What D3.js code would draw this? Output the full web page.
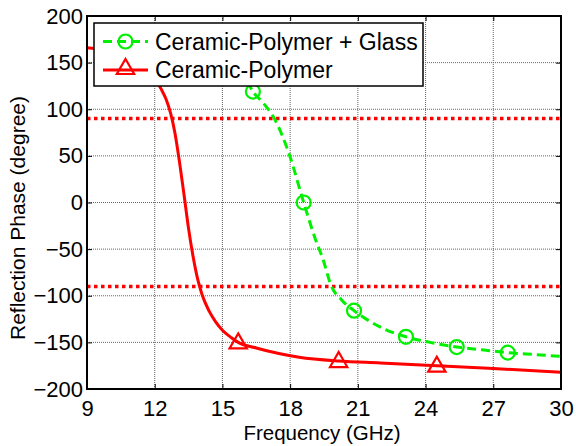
<!DOCTYPE html>
<html><head><meta charset="utf-8">
<script src="https://cdn.jsdelivr.net/npm/d3@7"></script>
<style>body{margin:0;background:#fff}svg{display:block}text{font-family:Arial,"Liberation Sans",sans-serif;fill:#000}</style>
</head><body><svg id="c" width="576" height="446"></svg>
<script>
const xTicks = [9,12,15,18,21,24,27,30];
const yTicks = [-200,-150,-100,-50,0,50,100,150,200];
const refLines = [90,-90];
// Ceramic-Polymer (red solid) curve
const cpFreq  = [9,10,11,11.5,12,12.3,12.5,12.7,12.9,13.1,13.3,13.5,13.7,13.9,14.1,14.4,14.7,15.0,15.4,15.7,16.5,17.5,18.4,20.15,22,24.5,27,30];
const cpPhase = [166,163,156,148,133,121,111,96,74,43,8,-28,-58,-82,-99,-116,-128,-137,-145,-150,-156,-162,-166,-170,-172,-175,-178,-182];
const cpMarkFreq  = [15.7,20.15,24.5];
const cpMarkPhase = [-150,-170,-175];
// Ceramic-Polymer + Glass (green dashed)
const cgFreq  = [16.1,16.35,16.8,17.3,17.97,18.6,19.1,19.47,19.8,20.3,20.83,21.5,22.2,23.13,24.2,25.38,26.5,27.64,28.8,30];
const cgPhase = [130,119,107,90,51,0,-38,-62,-88,-105,-116,-127,-136,-144,-150,-155,-158,-161,-163,-165];
const cgMarkFreq  = [16.35,18.6,20.83,23.13,25.38,27.64];
const cgMarkPhase = [119,0,-116,-144,-155,-161];
const legendLabels = ["Ceramic-Polymer + Glass","Ceramic-Polymer"];

const svg = d3.select("#c");
const L=87,R=561,T=16,B=389;
const GREEN="#00f000", RED="#ff0000";
const x = d3.scaleLinear().domain([9,30]).range([L,R]);
const y = d3.scaleLinear().domain([-200,200]).range([B,T]);

svg.append("defs").append("clipPath").attr("id","clip").append("rect").attr("x",L).attr("y",T).attr("width",R-L).attr("height",B-T);

// grid
const g = svg.append("g");
g.selectAll(".gx").data(xTicks.slice(1,-1)).join("line")
 .attr("x1",d=>x(d)).attr("x2",d=>x(d)).attr("y1",T).attr("y2",B)
 .attr("stroke","#666").attr("stroke-width",1).attr("stroke-dasharray","1,1");
g.selectAll(".gy").data(yTicks.slice(1,-1)).join("line")
 .attr("y1",d=>y(d)).attr("y2",d=>y(d)).attr("x1",L).attr("x2",R)
 .attr("stroke","#666").attr("stroke-width",1).attr("stroke-dasharray","1,1");

// axes
const ax = svg.append("g").attr("transform",`translate(0,${B})`).call(d3.axisBottom(x).tickValues(xTicks).tickSize(-5).tickPadding(11).tickFormat(d3.format("d")));
const axT = svg.append("g").attr("transform",`translate(0,${T})`).call(d3.axisTop(x).tickValues(xTicks).tickSize(-5).tickFormat(""));
const ay = svg.append("g").attr("transform",`translate(${L},0)`).call(d3.axisLeft(y).tickValues(yTicks).tickSize(-5).tickPadding(4).tickFormat(d3.format("d")));
const ayR = svg.append("g").attr("transform",`translate(${R},0)`).call(d3.axisRight(y).tickValues(yTicks).tickSize(-5).tickFormat(""));
[ax,axT,ay,ayR].forEach(a=>{a.select(".domain").remove();a.selectAll("line").attr("stroke","#000").attr("stroke-width",1);});
[ax,ay].forEach(a=>a.selectAll("text").attr("font-size",22).attr("fill","#000").attr("font-family","Arial,'Liberation Sans',sans-serif"));

const plot = svg.append("g").attr("clip-path","url(#clip)");
// reference lines
plot.selectAll(".ref").data(refLines).join("line")
 .attr("x1",L).attr("x2",R).attr("y1",d=>y(d)).attr("y2",d=>y(d))
 .attr("stroke",RED).attr("stroke-width",3.5).attr("stroke-dasharray","3.5,3.5");

const line = d3.line().x(d=>x(d[0])).y(d=>y(d[1])).curve(d3.curveMonotoneX);
const cpData = cpFreq.map((f,i)=>[f,cpPhase[i]]);
const cgData = cgFreq.map((f,i)=>[f,cgPhase[i]]);
plot.append("path").datum(cpData).attr("d",line).attr("fill","none").attr("stroke",RED).attr("stroke-width",3);
plot.append("path").datum(cgData).attr("d",line).attr("fill","none").attr("stroke",GREEN).attr("stroke-width",3).attr("stroke-dasharray","9,5");

const tri = d3.symbol().type(d3.symbolTriangle).size(130);
plot.selectAll(".tri").data(cpMarkFreq.map((f,i)=>[f,cpMarkPhase[i]])).join("path")
 .attr("d",tri).attr("transform",d=>`translate(${x(d[0])},${y(d[1])+1})`)
 .attr("fill","none").attr("stroke",RED).attr("stroke-width",2.2);
plot.selectAll(".cir").data(cgMarkFreq.map((f,i)=>[f,cgMarkPhase[i]])).join("circle")
 .attr("cx",d=>x(d[0])).attr("cy",d=>y(d[1])).attr("r",7)
 .attr("fill","none").attr("stroke",GREEN).attr("stroke-width",2.2);

// frame
svg.append("rect").attr("x",L).attr("y",T).attr("width",R-L).attr("height",B-T).attr("fill","none").attr("stroke","#000").attr("stroke-width",2);

// legend
const lg = svg.append("g");
lg.append("rect").attr("x",94).attr("y",23).attr("width",329).attr("height",63).attr("fill","#fff").attr("stroke","#000").attr("stroke-width",1.5);
const rows=[41.5,70];
lg.append("line").attr("x1",103).attr("x2",148).attr("y1",rows[0]).attr("y2",rows[0]).attr("stroke",GREEN).attr("stroke-width",3).attr("stroke-dasharray","9,5");
lg.append("circle").attr("cx",125.5).attr("cy",rows[0]).attr("r",7).attr("fill","none").attr("stroke",GREEN).attr("stroke-width",2.2);
lg.append("line").attr("x1",103).attr("x2",148).attr("y1",rows[1]).attr("y2",rows[1]).attr("stroke",RED).attr("stroke-width",3);
lg.append("path").attr("d",tri).attr("transform",`translate(125.5,${rows[1]-1})`).attr("fill","none").attr("stroke",RED).attr("stroke-width",2.2);
lg.selectAll(".lt").data(legendLabels).join("text").attr("x",155).attr("y",(d,i)=>rows[i]+8.3).attr("font-size",23).text(d=>d);

// axis titles
svg.append("text").attr("x",322).attr("y",440).attr("text-anchor","middle").attr("font-size",20.5).text("Frequency (GHz)");
svg.append("text").attr("transform",`translate(25,218) rotate(-90)`).attr("text-anchor","middle").attr("font-size",21).text("Reflection Phase (degree)");
</script></body></html>
